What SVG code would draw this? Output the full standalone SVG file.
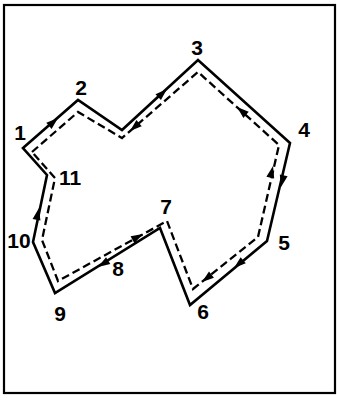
<svg xmlns="http://www.w3.org/2000/svg" width="337" height="400" viewBox="0 0 337 400">
<style>
.frame{fill:none;stroke:#000;stroke-width:2.2}
.solid{fill:none;stroke:#000;stroke-width:2.6;stroke-linejoin:miter}
.dash{fill:none;stroke:#000;stroke-width:2.3;stroke-dasharray:8,4}
.lbl{font-family:"Liberation Sans",Arial,sans-serif;font-size:21px;font-weight:bold;fill:#000;text-anchor:middle}
</style>
<defs>
<path id="ah" d="M0,0 L-12,-4 L-12,4 Z" fill="#000"/>
</defs>
<rect class="frame" x="4" y="5" width="331" height="388"/>
<g id="connectors">
<path id="outer" class="solid" d="M23,148 L78,100 L122,130 L198,60 L290,143 L267,241 L190,305 L160,228 L55,293 L33,242 L47,175 Z"/>
<path id="inner" class="dash" d="M32,152 L78,112 L122,138 L198,72 L279,145 L258,237 L193,289 L167,221 L58,281 L42,240 L55,178 Z"/>
<use href="#ah" transform="translate(58,118) rotate(-41)"/>
<use href="#ah" transform="translate(167,89) rotate(-43)"/>
<use href="#ah" transform="translate(130,131) rotate(139)"/>
<use href="#ah" transform="translate(237,107) rotate(-139)"/>
<use href="#ah" transform="translate(281,187) rotate(103)"/>
<use href="#ah" transform="translate(273,166) rotate(-77)"/>
<use href="#ah" transform="translate(234,268) rotate(140)"/>
<use href="#ah" transform="translate(202,282) rotate(142)"/>
<use href="#ah" transform="translate(143,234) rotate(-29)"/>
<use href="#ah" transform="translate(98,267) rotate(148)"/>
<use href="#ah" transform="translate(39,208) rotate(-78)"/>
</g>
<g id="n1"><text class="lbl" x="20" y="140">1</text></g>
<g id="n2"><text class="lbl" x="81" y="95">2</text></g>
<g id="n3"><text class="lbl" x="197" y="55">3</text></g>
<g id="n4"><text class="lbl" x="304" y="137">4</text></g>
<g id="n5"><text class="lbl" x="284" y="250">5</text></g>
<g id="n6"><text class="lbl" x="203" y="319">6</text></g>
<g id="n7"><text class="lbl" x="166" y="214">7</text></g>
<g id="n8"><text class="lbl" x="118" y="276">8</text></g>
<g id="n9"><text class="lbl" x="60" y="321">9</text></g>
<g id="n10"><text class="lbl" x="19" y="248">10</text></g>
<g id="n11"><text class="lbl" x="70" y="185">11</text></g>
</svg>
